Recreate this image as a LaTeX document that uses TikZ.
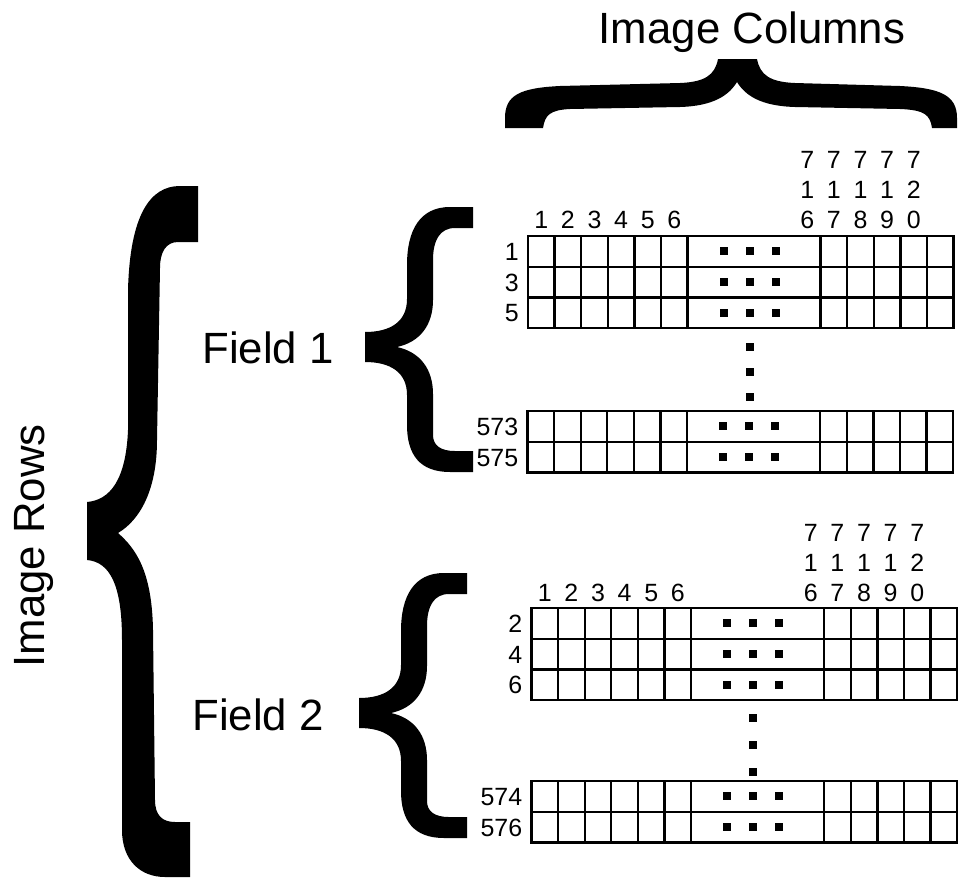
\documentclass[tikz,border=0pt]{standalone}
\usepackage{fontspec}
\setmainfont{Liberation Sans}
\begin{document}
\begin{tikzpicture}[x=0.02cm, y=-0.02cm]
\tikzset{
  gridline/.style={line width=1.35pt, line join=miter},
  bracefill/.style={fill=black, draw=none},
  bigtext/.style={font=\fontsize{24.9pt}{30pt}\selectfont, inner sep=0pt},
  numtext/.style={font=\fontsize{14.2pt}{17pt}\selectfont, inner sep=0pt},
}
\useasboundingbox (0,0) rectangle (966,879);

% one row of pixels: x0, top y, label, node name
\newcommand\cellrow[4]{%
  \draw[gridline] (#1,#2) rectangle ++(425.6,30.7);
  \foreach \k in {1,2,3,4,5,6,11,12,13,14,15}
    \draw[gridline] (#1+\k*26.6,#2) -- ++(0,30.7);
  \foreach \d in {36,62,88}
    \fill (#1+159.6+\d-4,#2+15.35-4) rectangle ++(8,8);
  \node[numtext, anchor=base east] (#4) at (#1-9,#2+24.3) {#3};
}
% column numbers above a block: prefix, x0, baseline of the lowest line
\newcommand\colheads[3]{%
  \foreach \c in {1,...,6}
    \node[numtext, anchor=base] (#1c\c) at (#2+\c*26.6-13.3,#3) {\c};
  \foreach \a/\b/\e [count=\k from 11] in {7/1/6,7/1/7,7/1/8,7/1/9,7/2/0} {
    \node[numtext, anchor=base] (#1h\k a) at (#2+\k*26.6-13.3,#3-60) {\a};
    \node[numtext, anchor=base] (#1h\k b) at (#2+\k*26.6-13.3,#3-30) {\b};
    \node[numtext, anchor=base] (#1h\k c) at (#2+\k*26.6-13.3,#3) {\e};
  }
}
% vertical ellipsis between row groups
\newcommand\vdotsq[2]{%
  \foreach \yy in {#2}
    \fill (#1-4,\yy-4) rectangle ++(8,8);
}

% ---- titles ----
\node[bigtext, anchor=base] (cols) at (752,43) {Image Columns};
\node[bigtext, anchor=base, rotate=90] (rows) at (44,546) {Image Rows};
\node[bigtext, anchor=base] (f1) at (268,363) {Field 1};
\node[bigtext, anchor=base] (f2) at (258,730) {Field 2};

% ---- brace over the columns ----
\fill[bracefill] (505,128) -- (505,118) .. controls (505,95) and (520,88) .. (560,86)
  -- (680,83) .. controls (705,82) and (715,75) .. (718,59) -- (757,59)
  .. controls (760,75) and (770,82) .. (795,83) -- (900,86)
  .. controls (940,88) and (957,95) .. (957,118) -- (957,128) -- (932,128)
  .. controls (930,115) and (925,110) .. (900,109) -- (795,107)
  .. controls (760,106) and (745,95) .. (737,82)
  .. controls (729,95) and (714,106) .. (680,107) -- (570,109)
  .. controls (550,110) and (545,115) .. (543,128) -- cycle;

% ---- brace over all rows ----
\fill[bracefill] (198,186) -- (198,242) -- (178,242) .. controls (166,242) and (160,252) .. (160,268)
  -- (157,440) .. controls (157,490) and (140,520) .. (118,533)
  .. controls (135,548) and (152,570) .. (153,630)
  -- (155,800) .. controls (155,815) and (162,822) .. (175,822) -- (190,822) -- (190,877)
  -- (165,877) .. controls (140,877) and (122,860) .. (122,830)
  -- (122,640) .. controls (122,585) and (110,562) .. (87,560)
  -- (87,502) .. controls (110,500) and (126,480) .. (128,430)
  -- (128,290) .. controls (130,215) and (150,186) .. (180,186) -- cycle;

% ---- field braces ----
\foreach \sx/\sy in {0/0,-6/366}
\fill[bracefill, shift={(\sx,\sy)}] (473,207) -- (473,228) -- (455,228)
  .. controls (440,228) and (433,240) .. (433,260) -- (433,300)
  .. controls (433,325) and (420,342) .. (397,347)
  .. controls (420,352) and (433,369) .. (433,394) -- (433,435)
  .. controls (433,445) and (440,451) .. (455,451) -- (473,451) -- (473,472) -- (450,472)
  .. controls (420,472) and (407,455) .. (407,425) -- (407,395)
  .. controls (407,372) and (390,362) .. (365,362) -- (365,332)
  .. controls (390,332) and (407,322) .. (407,299) -- (407,265)
  .. controls (407,230) and (420,207) .. (450,207) -- cycle;

% ---- field 1 ----
\colheads{a}{528}{228}
\cellrow{528}{236}{1}{r1}
\cellrow{528}{266.7}{3}{r3}
\cellrow{528}{297.4}{5}{r5}
\vdotsq{750}{347,372,397}
\cellrow{527.5}{411}{573}{r573}
\cellrow{527.5}{441.7}{575}{r575}

% ---- field 2 ----
\colheads{b}{531.5}{601}
\cellrow{531.5}{608}{2}{r2}
\cellrow{531.5}{638.7}{4}{r4}
\cellrow{531.5}{669.4}{6}{r6}
\vdotsq{753}{718,745,772}
\cellrow{531.5}{781}{574}{r574}
\cellrow{531.5}{811.7}{576}{r576}
\end{tikzpicture}
\end{document}
